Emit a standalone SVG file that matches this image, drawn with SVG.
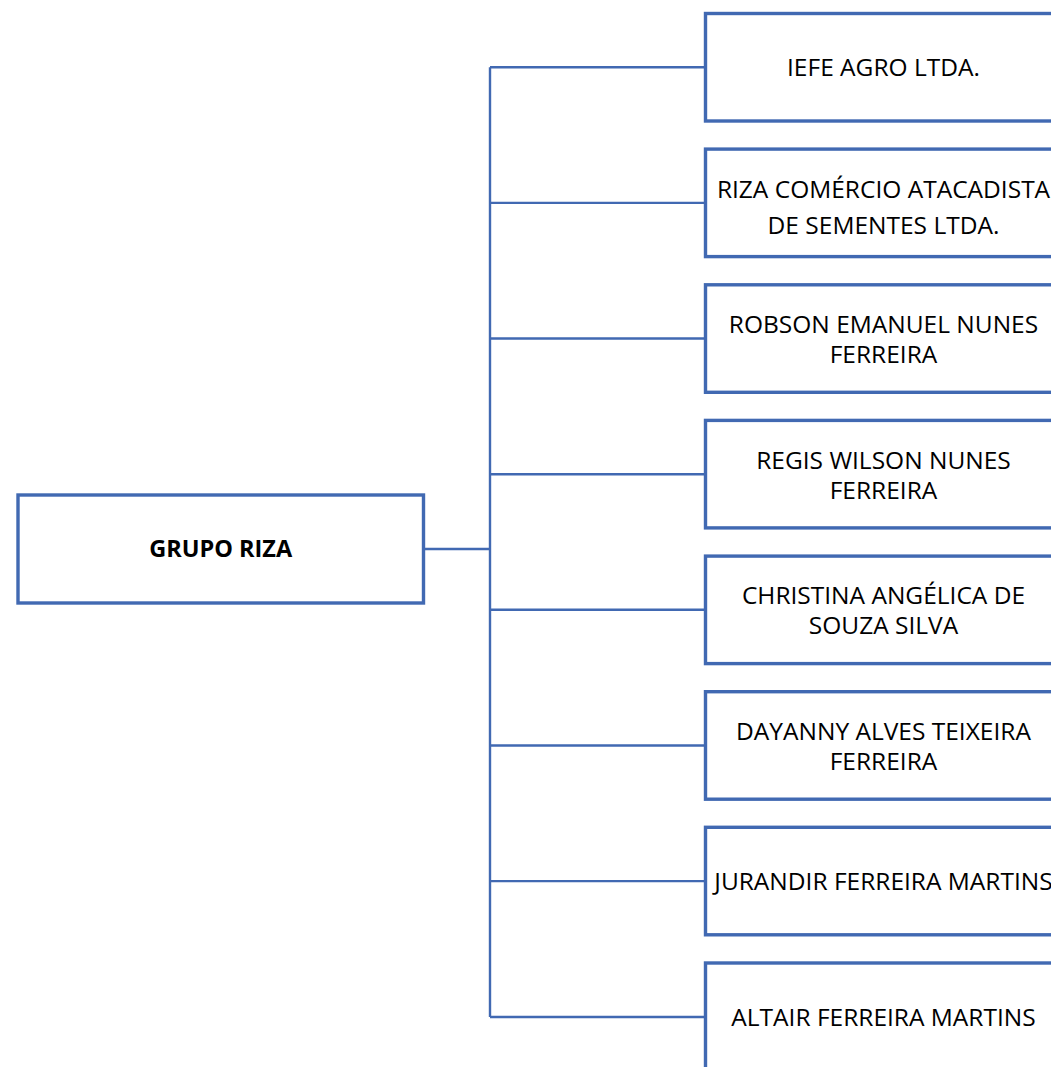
<svg xmlns="http://www.w3.org/2000/svg" width="1051" height="1067" viewBox="0 0 1051 1067">
<style>
.box{fill:#ffffff;stroke:#4169B2;stroke-width:3.4}
.conn{fill:none;stroke:#4169B2;stroke-width:2.4}
.t{font-family:"Open Sans","Liberation Sans",sans-serif;font-size:24.5px;fill:#000;text-anchor:middle}
.tb{font-family:"Open Sans","Liberation Sans",sans-serif;font-size:23.5px;font-weight:bold;fill:#000;text-anchor:middle}
</style>
<rect width="1051" height="1067" fill="#ffffff"/>
<g id="connectors">
<path class="conn" d="M424 549H490M490 67.3V1017M490 67.3H705.5M490 202.9H705.5M490 338.5H705.5M490 474.2H705.5M490 609.8H705.5M490 745.5H705.5M490 881.1H705.5M490 1017H705.5"/>
</g>
<g id="root">
<rect class="box" x="18" y="495" width="405.5" height="108"/>
<text class="tb" x="220.7" y="557">GRUPO RIZA</text>
</g>
<g id="n1">
<rect class="box" x="705.5" y="13.5" width="356" height="107.5"/>
<text class="t" x="883.5" y="75.5">IEFE AGRO LTDA.</text>
</g>
<g id="n2">
<rect class="box" x="705.5" y="149.1" width="356" height="107.5"/>
<text class="t" x="883.5" y="197.5">RIZA COMÉRCIO ATACADISTA</text>
<text class="t" x="883.5" y="233.5">DE SEMENTES LTDA.</text>
</g>
<g id="n3">
<rect class="box" x="705.5" y="284.8" width="356" height="107.5"/>
<text class="t" x="883.5" y="333">ROBSON EMANUEL NUNES</text>
<text class="t" x="883.5" y="363">FERREIRA</text>
</g>
<g id="n4">
<rect class="box" x="705.5" y="420.4" width="356" height="107.5"/>
<text class="t" x="883.5" y="468.5">REGIS WILSON NUNES</text>
<text class="t" x="883.5" y="498.5">FERREIRA</text>
</g>
<g id="n5">
<rect class="box" x="705.5" y="556.1" width="356" height="107.5"/>
<text class="t" x="883.5" y="604">CHRISTINA ANGÉLICA DE</text>
<text class="t" x="883.5" y="634">SOUZA SILVA</text>
</g>
<g id="n6">
<rect class="box" x="705.5" y="691.7" width="356" height="107.5"/>
<text class="t" x="883.5" y="739.5">DAYANNY ALVES TEIXEIRA</text>
<text class="t" x="883.5" y="769.5">FERREIRA</text>
</g>
<g id="n7">
<rect class="box" x="705.5" y="827.3" width="356" height="107.5"/>
<text class="t" x="883.5" y="889.5">JURANDIR FERREIRA MARTINS</text>
</g>
<g id="n8">
<rect class="box" x="705.5" y="963" width="356" height="107.5"/>
<text class="t" x="883.5" y="1025.5">ALTAIR FERREIRA MARTINS</text>
</g>
</svg>
